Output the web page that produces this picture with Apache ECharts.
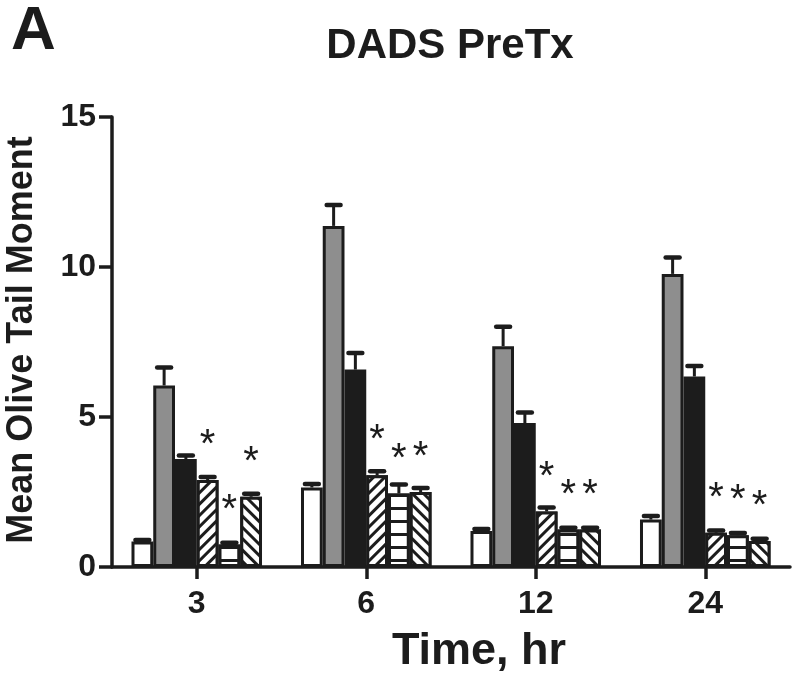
<!DOCTYPE html>
<html>
<head>
<meta charset="utf-8">
<script src="https://cdn.jsdelivr.net/npm/echarts@6/dist/echarts.min.js"></script>
<style>
html,body{margin:0;padding:0;background:#fff;}
#chart{width:800px;height:681px;}
</style>
</head>
<body>
<div id="chart"></div>
<script>
// ---- data ----
var categories = ['3', '6', '12', '24'];
var yTicks = [0, 5, 10, 15];
var seriesNames = ['Control', 'Group 2', 'Group 3', 'Group 4', 'Group 5', 'Group 6'];

var meanWhite = [0.85, 2.65, 1.20, 1.58];
var meanGray  = [6.05, 11.37, 7.36, 9.77];
var meanBlack = [3.60, 6.58, 4.80, 6.35];
var meanDiag  = [2.90, 3.06, 1.85, 1.14];
var meanHoriz = [0.75, 2.45, 1.25, 1.06];
var meanBack  = [2.34, 2.50, 1.25, 0.87];

var errWhite = [0.05, 0.12, 0.07, 0.12];
var errGray  = [0.60, 0.70, 0.65, 0.55];
var errBlack = [0.12, 0.55, 0.35, 0.35];
var errDiag  = [0.10, 0.13, 0.13, 0.08];
var errHoriz = [0.06, 0.30, 0.06, 0.07];
var errBack  = [0.10, 0.13, 0.06, 0.07];

var sigWhite = [false, false, false, false];
var sigGray  = [false, false, false, false];
var sigBlack = [false, false, false, false];
var sigDiag  = [true, true, true, true];
var sigHoriz = [true, true, true, true];
var sigBack  = [true, true, true, true];

var means = [meanWhite, meanGray, meanBlack, meanDiag, meanHoriz, meanBack];
var errs  = [errWhite, errGray, errBlack, errDiag, errHoriz, errBack];
var sigs  = [sigWhite, sigGray, sigBlack, sigDiag, sigHoriz, sigBack];

// ---- styles ----
var INK = '#1c1c1c';
var FONT = '"Liberation Sans", Arial, Helvetica, sans-serif';
var CAT_GAP = 0.23;
var fills = ['#ffffff', '#8e8e8e', INK, '#ffffff', '#ffffff', '#ffffff'];
var decals = [
  null, null, null,
  {symbol: 'rect', symbolSize: 1, color: INK, backgroundColor: '#ffffff', dashArrayX: [1, 0], dashArrayY: [2.6, 4.6], rotation: -Math.PI / 4},
  {symbol: 'rect', symbolSize: 1, color: INK, backgroundColor: '#ffffff', dashArrayX: [1, 0], dashArrayY: [3, 10], rotation: 0},
  {symbol: 'rect', symbolSize: 1, color: INK, backgroundColor: '#ffffff', dashArrayX: [1, 0], dashArrayY: [2.6, 4.6], rotation: Math.PI / 4}
];

var chart = echarts.init(document.getElementById('chart'), null, {renderer: 'canvas'});

var series = [];
means.forEach(function (m, si) {
  var st = {color: fills[si], borderColor: INK, borderWidth: 3};
  if (decals[si]) st.decal = decals[si];
  series.push({
    type: 'bar',
    name: seriesNames[si],
    data: m,
    barGap: '0%',
    barCategoryGap: (CAT_GAP * 100) + '%',
    itemStyle: st,
    emphasis: {disabled: true},
    animation: false,
    z: 2,
    label: {
      show: true,
      position: 'top',
      distance: 14,
      formatter: function (p) { return sigs[si][p.dataIndex] ? '*' : ''; },
      fontSize: 40,
      fontFamily: FONT,
      fontWeight: 'normal',
      color: INK
    }
  });
});

var errData = [];
means.forEach(function (m, si) {
  m.forEach(function (v, ci) { errData.push([ci, v, errs[si][ci], si]); });
});

series.push({
  type: 'custom',
  name: 'SEM',
  data: errData,
  z: 5,
  animation: false,
  silent: true,
  renderItem: function (params, api) {
    var ci = api.value(0), v = api.value(1), e = api.value(2), si = api.value(3);
    var band = api.size([1, 0])[0];
    var bw = band * (1 - CAT_GAP) / 6;
    var base = api.coord([ci, v]);
    var top = api.coord([ci, v + e]);
    var x = base[0] + (si - 2.5) * bw;
    var half = bw * 0.32;
    return {
      type: 'group',
      children: [
        {type: 'line', shape: {x1: x, y1: base[1], x2: x, y2: top[1]}, style: {stroke: INK, lineWidth: 3}},
        {type: 'line', shape: {x1: x - half, y1: top[1], x2: x + half, y2: top[1]}, style: {stroke: INK, lineWidth: 4.5, lineCap: 'round'}}
      ]
    };
  }
});

var option = {
  backgroundColor: '#ffffff',
  animation: false,
  grid: {left: 112, right: 10, top: 117, bottom: 114, containLabel: false},
  xAxis: {
    type: 'category',
    data: categories,
    axisLine: {show: true, lineStyle: {color: INK, width: 3.5}},
    axisTick: {show: true, alignWithLabel: true, length: 12, lineStyle: {color: INK, width: 3.5}},
    axisLabel: {fontSize: 32, fontWeight: 'bold', fontFamily: FONT, color: INK, margin: 21},
    splitLine: {show: false}
  },
  yAxis: {
    type: 'value',
    min: yTicks[0],
    max: yTicks[yTicks.length - 1],
    interval: yTicks[1] - yTicks[0],
    axisLine: {show: true, lineStyle: {color: INK, width: 3.5}},
    axisTick: {show: true, length: 13, lineStyle: {color: INK, width: 3.5}},
    axisLabel: {fontSize: 32, fontWeight: 'bold', fontFamily: FONT, color: INK, margin: 16},
    splitLine: {show: false}
  },
  graphic: [
    {type: 'text', left: 11, top: 1, style: {text: 'A', font: 'bold 62px ' + FONT, fill: INK}},
    {type: 'text', x: 450, y: 46, style: {text: 'DADS PreTx', font: 'bold 42px ' + FONT, fill: INK, align: 'center', verticalAlign: 'middle'}},
    {type: 'text', x: 479, y: 652, style: {text: 'Time, hr', font: 'bold 45px ' + FONT, fill: INK, align: 'center', verticalAlign: 'middle'}},
    {type: 'text', x: 22, y: 340, rotation: Math.PI / 2, style: {text: 'Mean Olive Tail Moment', font: 'bold 36px ' + FONT, fill: INK, align: 'center', verticalAlign: 'middle'}}
  ],
  series: series
};
chart.setOption(option);
</script>
</body>
</html>
